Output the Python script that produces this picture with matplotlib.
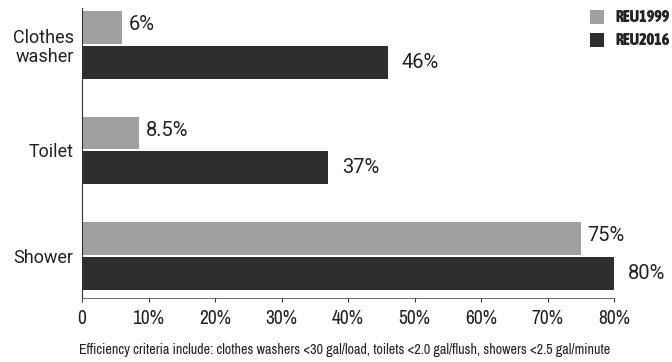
import matplotlib
matplotlib.use("Agg")
import matplotlib.pyplot as plt
from matplotlib.patches import Rectangle
import matplotlib.font_manager as fm

categories = ["Shower", "Toilet", "Clothes\nwasher"]
reu1999 = [75, 8.5, 6]
reu2016 = [80, 37, 46]
labels1999 = ["75%", "8.5%", "6%"]
labels2016 = ["80%", "37%", "46%"]
xticks = [0, 10, 20, 30, 40, 50, 60, 70, 80]
xticklabels = ["0", "10%", "20%", "30%", "40%", "50%", "60%", "70%", "80%"]
series_names = ["REU1999", "REU2016"]
caption = "Efficiency criteria include: clothes washers <30 gal/load, toilets <2.0 gal/flush, showers <2.5 gal/minute"

# find a condensed face if any is installed
cond = []
for f in fm.fontManager.ttflist:
    nm = (f.name + " " + f.fname).lower()
    st = str(f.stretch).lower()
    if ("condensed" in nm or "narrow" in nm or "condensed" in st) and f.style == "normal":
        cond.append(f)
def pick(weight_bold):
    best = None
    for f in cond:
        w = f.weight if isinstance(f.weight, int) else (700 if "bold" in str(f.weight) else 400)
        if (w >= 600) == weight_bold and (weight_bold or w >= 400):
            best = f
            if "dejavu" not in f.fname.lower():
                break
    return best
creg = pick(False)
cbold = pick(True)
names = {f.name for f in fm.fontManager.ttflist}
reg = "Roboto" if "Roboto" in names else "DejaVu Sans"
fp_narrow = fm.FontProperties(fname=creg.fname) if creg else fm.FontProperties(family=reg)
fp_narrow_b = fm.FontProperties(fname=cbold.fname) if cbold else fm.FontProperties(family=reg, weight="bold")

light = "#a0a0a0"
dark = "#2e2e2e"
txt = "#222222"

fig = plt.figure(figsize=(6.72, 3.62), dpi=100)
ax = fig.add_axes([82/672, 1-298/362, (614-82)/672, 290/362])

h = 0.31
off = 0.165
pos = list(range(len(categories)))
ax.barh([p + off for p in pos], reu1999, height=h, color=light)
ax.barh([p - off for p in pos], reu2016, height=h, color=dark)

for p, v, t in zip(pos, reu1999, labels1999):
    ax.annotate(t, (v, p + off), xytext=(5, 2), textcoords="offset points",
                va="center", ha="left", fontsize=14.5, family=reg, color=txt)
for p, v, t in zip(pos, reu2016, labels2016):
    ax.annotate(t, (v, p - off), xytext=(10, 0), textcoords="offset points",
                va="center", ha="left", fontsize=14.5, family=reg, color=txt)

ax.set_xlim(0, 80)
ax.set_ylim(-0.4, 2.35)
ax.set_yticks(pos)
ax.set_yticklabels(categories, fontsize=13, family=reg, color=txt, linespacing=1.05)
ax.tick_params(axis="y", length=0, pad=6)
ax.set_xticks(xticks)
ax.set_xticklabels(xticklabels, color=txt)
for lab in ax.get_xticklabels():
    lab.set_fontproperties(fp_narrow)
    lab.set_fontsize(14 if creg else 11)
ax.tick_params(axis="x", length=3, direction="out", pad=5, color="#333333")
for s in ["top", "right"]:
    ax.spines[s].set_visible(False)
ax.spines["left"].set_color("#333333")
ax.spines["bottom"].set_color("#555555")
ax.spines["bottom"].set_linewidth(0.6)

# legend drawn in figure pixel coordinates
W, H = 672, 362
lp = fp_narrow_b.copy()
lp.set_size(11.5 if cbold else 9)
for i, (nm, col) in enumerate(zip(series_names, [light, dark])):
    top = 10 + i * 23
    fig.patches.append(Rectangle((590/W, 1-(top+14)/H), 14/W, 14/H, transform=fig.transFigure,
                                 facecolor=col, edgecolor="none"))
    fig.text(615/W, 1-(top+7)/H, nm, ha="left", va="center", fontproperties=lp, color=txt)

cp = fp_narrow.copy()
cp.set_size(11)
ct = fig.text(345/W, 1-350/H, caption, ha="center", va="center",
              fontproperties=cp, color=txt)
fig.canvas.draw()
r = fig.canvas.get_renderer()
w = ct.get_window_extent(r).width
ct.set_fontsize(11 * 530 / w)

fig.savefig("out.png", dpi=100)
